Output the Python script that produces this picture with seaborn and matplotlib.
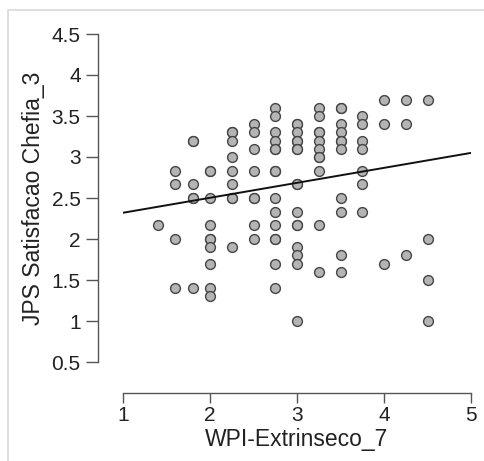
import numpy as np
import pandas as pd
import matplotlib
matplotlib.use("Agg")
import matplotlib.pyplot as plt
import seaborn as sns
from matplotlib.patches import Rectangle

# Data (bold-looking markers duplicated)
x_vals = (
    [1.4]
    + [1.6] * 4
    + [1.8] * 6
    + [2.0] * 10
    + [2.25] * 9
    + [2.5] * 8
    + [2.75] * 15
    + [3.0] * 16
    + [3.25] * 11
    + [3.5] * 11
    + [3.75] * 7
    + [4.0] * 3
    + [4.25] * 3
    + [4.5] * 4
)
y_vals = (
    [2.17]
    + [2.83, 2.67, 2.0, 1.4]
    + [3.2, 3.2, 2.67, 2.5, 2.5, 1.4]
    + [2.83, 2.83, 2.5, 2.17, 2.0, 2.0, 1.9, 1.7, 1.4, 1.3]
    + [3.3, 3.3, 3.2, 3.0, 2.83, 2.67, 2.5, 2.5, 1.9]
    + [3.4, 3.3, 3.1, 2.83, 2.5, 2.5, 2.17, 2.0]
    + [3.6, 3.5, 3.3, 3.2, 3.1, 3.1, 2.83, 2.83, 2.5, 2.33, 2.17, 2.0, 2.0, 1.7, 1.4]
    + [3.4, 3.4, 3.3, 3.2, 3.2, 3.1, 3.1, 2.67, 2.67, 2.33, 2.17, 2.17, 1.9, 1.8, 1.7, 1.0]
    + [3.6, 3.5, 3.3, 3.3, 3.2, 3.1, 3.0, 3.0, 2.83, 2.17, 1.6]
    + [3.6, 3.6, 3.4, 3.3, 3.2, 3.2, 3.1, 2.5, 2.33, 1.8, 1.6]
    + [3.5, 3.4, 3.2, 3.1, 2.83, 2.67, 2.33]
    + [3.7, 3.4, 1.7]
    + [3.7, 3.4, 1.8]
    + [3.7, 2.0, 1.5, 1.0]
)
# Regression line
fit_x = [1.0, 5.0]
fit_y = [2.32, 3.05]

x_ticks = [1, 2, 3, 4, 5]
y_ticks = [0.5, 1, 1.5, 2, 2.5, 3, 3.5, 4, 4.5]
x_label = "WPI-Extrinseco_7"
y_label = "JPS Satisfacao Chefia_3"

df = pd.DataFrame({"x": x_vals, "y": y_vals})
line_df = pd.DataFrame({"x": fit_x, "y": fit_y})

sns.set_style("white")
plt.rcParams["font.family"] = ["Liberation Sans", "DejaVu Sans"]

fig = plt.figure(figsize=(4.84, 4.61), dpi=100)
ax = fig.add_axes([123 / 484, 1 - 362 / 461, 348 / 484, 328 / 461])

# Light gray frame around the plot panel
fig.patches.append(Rectangle((8 / 484, -0.1), 1.2, 1 - 10 / 461 + 0.1,
                             transform=fig.transFigure, fill=False,
                             edgecolor="#d9d9d9", linewidth=1.2))

sns.lineplot(data=line_df, x="x", y="y", ax=ax, color="#111111",
             linewidth=1.4, zorder=3)
sns.scatterplot(data=df, x="x", y="y", ax=ax, s=50, color="#b4b4b4",
                edgecolor="#454545", linewidth=1.0, zorder=2, clip_on=False)

ax.set_xlim(1, 5)
ax.set_ylim(0.5, 4.5)
ax.set_xticks(x_ticks)
ax.set_xticklabels([str(t) for t in x_ticks])
ax.set_yticks(y_ticks)
ax.set_yticklabels([("%g" % t) for t in y_ticks])

for s in ["top", "right"]:
    ax.spines[s].set_visible(False)
ax.spines["left"].set_position(("outward", 18))
ax.spines["bottom"].set_position(("outward", 22))
ax.spines["left"].set_bounds(0.5, 4.5)
ax.spines["bottom"].set_bounds(1, 5)
for s in ["left", "bottom"]:
    ax.spines[s].set_color("#555555")
    ax.spines[s].set_linewidth(1.0)

ax.tick_params(axis="both", which="major", bottom=True, left=True,
               direction="out", width=1.0,
               color="#555555", labelsize=15, labelcolor="#222222")
ax.tick_params(axis="y", length=8.5, pad=4)
ax.tick_params(axis="x", length=7.5, pad=2)
ax.set_xlabel(x_label, fontsize=16.5, color="#222222", labelpad=2.5)
ax.set_ylabel(y_label, fontsize=16.5, color="#222222", labelpad=5)
ax.set_facecolor("none")

fig.savefig("out.png", dpi=100, facecolor="white")
